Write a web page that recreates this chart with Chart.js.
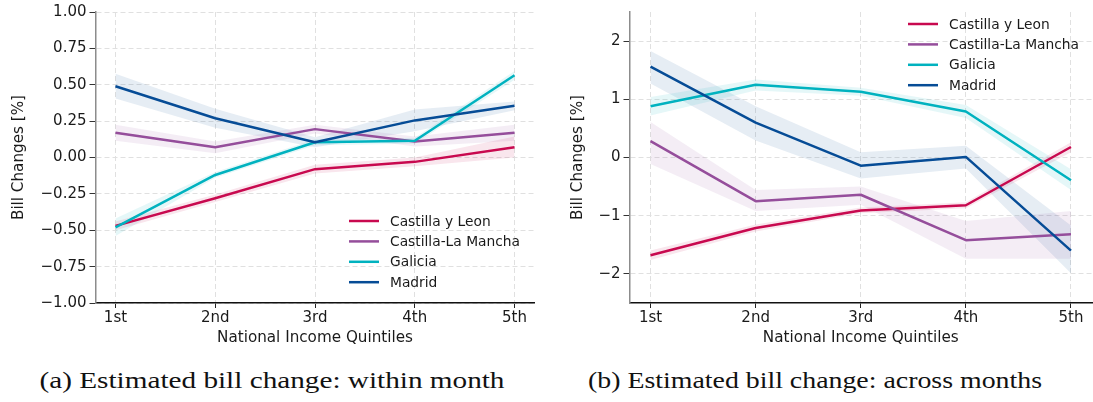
<!DOCTYPE html>
<html>
<head>
<meta charset="utf-8">
<script src="https://cdn.jsdelivr.net/npm/chart.js@4"></script>
<style>
  html, body { margin: 0; padding: 0; background: #fff; width: 1093px; height: 402px; overflow: hidden; }
  canvas { position: absolute; top: 0; }
  #chartA { left: 0; }
  #chartB { left: 546px; }
  .caption {
    position: absolute; top: 368px; white-space: nowrap;
    font-family: "Liberation Serif", serif; font-size: 23px; color: #111;
    transform: translateX(-50%);
  }
</style>
</head>
<body>
<canvas id="chartA" width="546" height="347"></canvas>
<canvas id="chartB" width="547" height="347"></canvas>
<div class="caption" style="left:272px" data-w="465">(a) Estimated bill change: within month</div>
<div class="caption" style="left:815px" data-w="454">(b) Estimated bill change: across months</div>

<script>
// Categories and series
const quintiles = ['1st', '2nd', '3rd', '4th', '5th'];
const regions = ['Castilla y Leon', 'Castilla-La Mancha', 'Galicia', 'Madrid'];
const regionColors = ['#c8094f', '#954e9b', '#00b2bf', '#064c96'];

// (a) within month: estimate, lower and upper bound of the band
const withinCyL     = [-0.47, -0.28, -0.08, -0.03, 0.07];
const withinCyLLo   = [-0.50, -0.305, -0.11, -0.06, 0.00];
const withinCyLHi   = [-0.44, -0.255, -0.05, 0.00, 0.145];
const withinCLM     = [0.17, 0.07, 0.195, 0.11, 0.17];
const withinCLMLo   = [0.115, 0.03, 0.165, 0.075, 0.115];
const withinCLMHi   = [0.225, 0.11, 0.225, 0.145, 0.225];
const withinGal     = [-0.48, -0.12, 0.105, 0.115, 0.565];
const withinGalLo   = [-0.54, -0.14, 0.085, 0.095, 0.535];
const withinGalHi   = [-0.42, -0.10, 0.125, 0.135, 0.595];
const withinMad     = [0.49, 0.27, 0.105, 0.255, 0.355];
const withinMadLo   = [0.405, 0.205, 0.07, 0.18, 0.325];
const withinMadHi   = [0.575, 0.335, 0.14, 0.33, 0.385];

// (b) across months
const acrossCyL     = [-1.68, -1.21, -0.91, -0.82, 0.18];
const acrossCyLLo   = [-1.76, -1.27, -0.96, -0.87, 0.09];
const acrossCyLHi   = [-1.60, -1.15, -0.86, -0.77, 0.26];
const acrossCLM     = [0.28, -0.75, -0.64, -1.42, -1.32];
const acrossCLMLo   = [-0.11, -0.92, -0.81, -1.74, -1.74];
const acrossCLMHi   = [0.61, -0.56, -0.50, -1.09, -0.92];
const acrossGal     = [0.88, 1.25, 1.13, 0.79, -0.39];
const acrossGalLo   = [0.72, 1.15, 1.06, 0.68, -0.56];
const acrossGalHi   = [1.04, 1.34, 1.20, 0.90, -0.20];
const acrossMad     = [1.56, 0.60, -0.14, 0.01, -1.60];
const acrossMadLo   = [1.27, 0.29, -0.36, -0.19, -1.99];
const acrossMadHi   = [1.83, 0.88, 0.09, 0.20, -1.17];

// Tick values
const yTicksA = [-1.0, -0.75, -0.5, -0.25, 0.0, 0.25, 0.5, 0.75, 1.0];
const yTicksB = [-2, -1, 0, 1, 2];

const FAMILY = '"DejaVu Sans", sans-serif';
const TICK_FONT = { family: FAMILY, size: 15 };
const TITLE_FONT = { family: FAMILY, size: 15.2 };
const LEGEND_SIZE = 13.8;
const TEXT = '#1a1a1a';
const GRID = '#e0e0e0';

function toRgba(hex, a) {
  const n = parseInt(hex.slice(1), 16);
  return `rgba(${(n >> 16) & 255}, ${(n >> 8) & 255}, ${n & 255}, ${a})`;
}

function buildDatasets(series) {
  const pts = arr => arr.map((v, k) => ({ x: k, y: v }));
  const lines = [], bands = [];
  series.forEach((s, i) => {
    lines.push({
      label: regions[i], data: pts(s.mid), borderColor: regionColors[i],
      borderWidth: 2.5, pointRadius: 0, fill: false, tension: 0,
      borderJoinStyle: 'round', order: regions.length - i
    });
    bands.push({
      label: regions[i] + ' upper', data: pts(s.hi), borderWidth: 0,
      pointRadius: 0, fill: false, order: 20 + i
    });
    bands.push({
      label: regions[i] + ' lower', data: pts(s.lo), borderWidth: 0,
      pointRadius: 0, fill: '-1', backgroundColor: toRgba(regionColors[i], 0.1),
      order: 20 + i
    });
  });
  return lines.concat(bands);
}

// Legend drawn inside the plot area
const insetLegend = {
  id: 'insetLegend',
  afterDraw(chart, args, opts) {
    const ctx = chart.ctx;
    ctx.save();
    ctx.font = `${LEGEND_SIZE}px ${FAMILY}`;
    ctx.textBaseline = 'middle';
    regions.forEach((name, i) => {
      const y = opts.y + i * opts.gap;
      ctx.strokeStyle = regionColors[i];
      ctx.lineWidth = 2.5;
      ctx.beginPath();
      ctx.moveTo(opts.x, y);
      ctx.lineTo(opts.x + 30, y);
      ctx.stroke();
      ctx.fillStyle = TEXT;
      ctx.fillText(name, opts.x + 41, y + 1);
    });
    ctx.restore();
  }
};

function makeChart(id, cfg) {
  return new Chart(document.getElementById(id), {
    type: 'line',
    data: { datasets: buildDatasets(cfg.series) },
    plugins: [insetLegend],
    options: {
      responsive: false,
      animation: false,
      layout: { padding: { top: cfg.padTop, right: cfg.padRight, bottom: 0, left: 0 } },
      plugins: {
        legend: { display: false },
        tooltip: { enabled: false },
        insetLegend: cfg.legend
      },
      scales: {
        x: {
          type: 'linear',
          min: -0.2,
          max: quintiles.length - 1 + 0.2,
          afterBuildTicks: s => { s.ticks = quintiles.map((q, i) => ({ value: i })); },
          afterFit: s => { s.height = cfg.xHeight; },
          ticks: { callback: v => quintiles[v], font: TICK_FONT, color: TEXT, padding: 1, maxRotation: 0, autoSkip: false },
          grid: { color: GRID, lineWidth: 1, drawTicks: true, tickLength: 5, tickColor: '#222', tickWidth: 1, tickBorderDash: [] },
          border: { display: true, color: '#111', width: 1.5, dash: [5, 3] },
          title: { display: true, text: 'National Income Quintiles', font: TITLE_FONT, color: TEXT, padding: { top: 0, bottom: 0 } }
        },
        y: {
          min: cfg.yMin,
          max: cfg.yMax,
          afterBuildTicks: s => { s.ticks = cfg.yTicks.map(v => ({ value: v })); },
          afterFit: s => { s.width = cfg.yWidth; },
          ticks: { callback: cfg.fmt, font: TICK_FONT, color: TEXT, padding: 3 },
          grid: { color: GRID, lineWidth: 1, drawTicks: true, tickLength: 6, tickColor: '#333', tickWidth: 1, tickBorderDash: [] },
          border: { display: true, color: '#8c8c8c', width: 1.5, dash: [5, 3] },
          title: { display: true, text: 'Bill Changes [%]', font: TITLE_FONT, color: TEXT, padding: { top: cfg.yTitlePad, bottom: 0 } }
        }
      }
    }
  });
}

const minus = s => s.replace('-', '\u2212');

makeChart('chartA', {
  series: [
    { mid: withinCyL, lo: withinCyLLo, hi: withinCyLHi },
    { mid: withinCLM, lo: withinCLMLo, hi: withinCLMHi },
    { mid: withinGal, lo: withinGalLo, hi: withinGalHi },
    { mid: withinMad, lo: withinMadLo, hi: withinMadHi }
  ],
  yMin: -1, yMax: 1, yTicks: yTicksA,
  fmt: v => minus(v.toFixed(2)),
  padTop: 11, padRight: 11.5, xHeight: 44, yWidth: 95.5, yTitlePad: 10,
  legend: { x: 349, y: 221, gap: 20.4 }
});

makeChart('chartB', {
  series: [
    { mid: acrossCyL, lo: acrossCyLLo, hi: acrossCyLHi },
    { mid: acrossCLM, lo: acrossCLMLo, hi: acrossCLMHi },
    { mid: acrossGal, lo: acrossGalLo, hi: acrossGalHi },
    { mid: acrossMad, lo: acrossMadLo, hi: acrossMadHi }
  ],
  yMin: -2.5, yMax: 2.5, yTicks: yTicksB,
  fmt: v => minus(String(v)),
  padTop: 5, padRight: 1, xHeight: 44, yWidth: 83.5, yTitlePad: 23,
  legend: { x: 362, y: 24, gap: 20.4 }
});

// Stretch each caption to its column width
document.querySelectorAll('.caption').forEach(el => {
  const w = el.getBoundingClientRect().width;
  el.style.transform = `translateX(-50%) scaleX(${Number(el.dataset.w) / w})`;
});
</script>
</body>
</html>
